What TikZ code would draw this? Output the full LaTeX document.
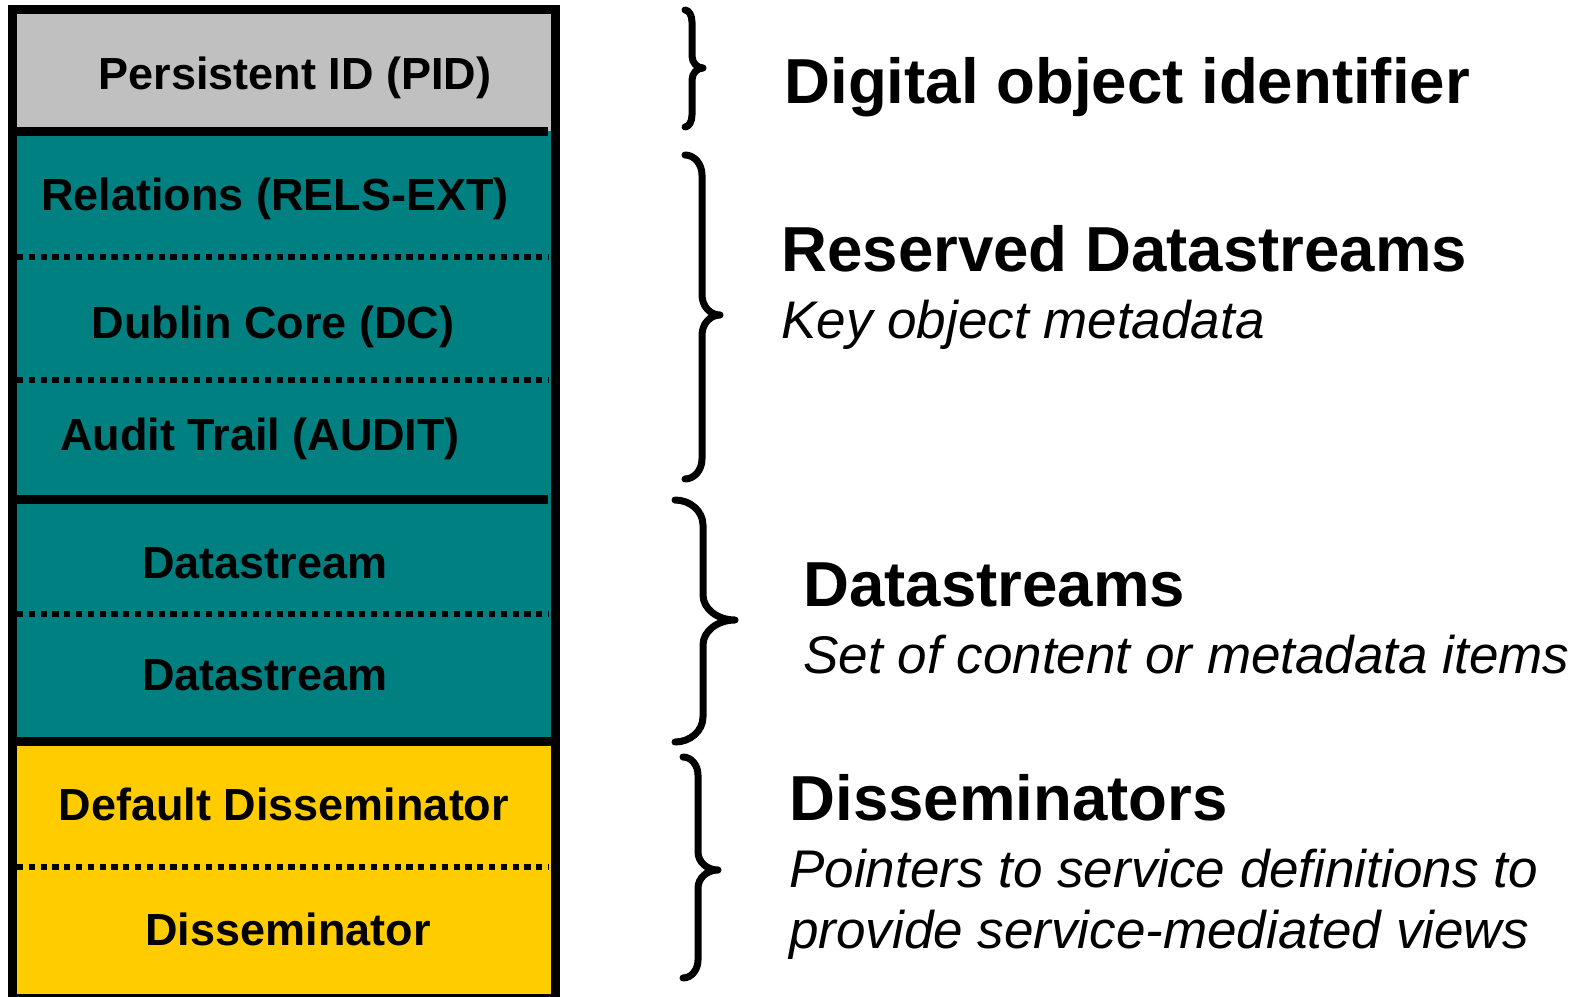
\documentclass[tikz,border=0pt]{standalone}
\usepackage{fontspec}
\setmainfont{Liberation Sans}
\usepackage{xcolor}
\usepackage{tikz}
\usetikzlibrary{positioning}
\definecolor{objgray}{HTML}{C0C0C0}
\definecolor{objteal}{HTML}{008080}
\definecolor{objyellow}{HTML}{FFCC00}

\begin{document}
\begin{tikzpicture}[
  x=0.5pt, y=-0.5pt,
  cell/.style={font=\fontsize{22.5}{27}\selectfont\bfseries, inner sep=0pt, anchor=base},
  head/.style={font=\fontsize{31.8}{38}\selectfont\bfseries, inner sep=0pt, anchor=base west},
  note/.style={font=\fontsize{26.5}{31.5}\selectfont\itshape, inner sep=0pt, anchor=base west},
  rule/.style={line width=4.5pt},
  dots/.style={line width=2.8pt, dash pattern=on 3.1pt off 2.8pt},
  brace/.style={line width=3.5pt, line cap=round, line join=round}
]
  \useasboundingbox (0,0) rectangle (1584,996);
  \clip (0,0) rectangle (1584,996);
  \fill[white] (0,0) rectangle (1584,996);

  % object column: backgrounds, separators, frame
  \fill[objgray] (17,14) rectangle (551,131);
  \fill[objteal] (17,131) rectangle (551,741);
  \fill[objyellow] (17,741) rectangle (551,998);
  \draw[rule] (17,131) -- (548,131);
  \draw[rule] (17,499) -- (548,499);
  \draw[rule] (17,741) -- (551,741);
  \draw[dots] (17,257) -- (549,257);
  \draw[dots] (17,380) -- (549,380);
  \draw[dots] (17,614) -- (549,614);
  \draw[dots] (17,867) -- (549,867);
  \draw[line width=4.5pt] (12.5,9.5) rectangle (555,998);

  \node[cell] (pid) at (295,89) {Persistent ID (PID)};
  \node[cell] (rels) at (275,210) {Relations (RELS-EXT)};
  \node[cell] (dc) at (273,338) {Dublin Core (DC)};
  \node[cell] (audit) at (260,450) {Audit Trail (AUDIT)};
  \node[cell] (ds1) at (265,578) {Datastream};
  \node[cell] (ds2) at (265,690) {Datastream};
  \node[cell] (defdiss) at (284,820) {Default Disseminator};
  \node[cell] (diss) at (288,945) {Disseminator};

  % braces: end x, stem x, tip x, top, middle, bottom, bend
  \foreach \xe/\xs/\xt/\yt/\ym/\yb/\r in
      {685/692/703/10/68/127/12, 685/702/720/155/315/479/20,
       675/703/735/500/620/742/25, 683/698/718/757/870/978/18}
    \draw[brace] (\xe,\yt) .. controls ({\xe+0.55*(\xs-\xe)},\yt) and (\xs,{\yt+0.45*\r}) .. (\xs,\yt+\r)
      -- (\xs,\ym-\r) .. controls (\xs,{\ym-0.45*\r}) and ({\xs+0.45*(\xt-\xs)},\ym) .. (\xt,\ym)
      .. controls ({\xs+0.45*(\xt-\xs)},\ym) and (\xs,{\ym+0.45*\r}) .. (\xs,\ym+\r)
      -- (\xs,\yb-\r) .. controls (\xs,{\yb-0.45*\r}) and ({\xe+0.55*(\xs-\xe)},\yb) .. (\xe,\yb);

  \node[head] (pidhead) at (784,103) {Digital object identifier};
  \node[head] (reshead) at (781,271) {Reserved Datastreams};
  \node[note] (resnote) at (781,338) {Key object metadata};
  \node[head] (dshead) at (803,606) {Datastreams};
  \node[note] (dsnote) at (803,673) {Set of content or metadata items};
  \node[head] (disshead) at (789,820) {Disseminators};
  \node[note] (dissnote) at (789,887) {Pointers to service definitions to};
  \node[note] (dissnote2) at (789,948) {provide service-mediated views};
\end{tikzpicture}
\end{document}
